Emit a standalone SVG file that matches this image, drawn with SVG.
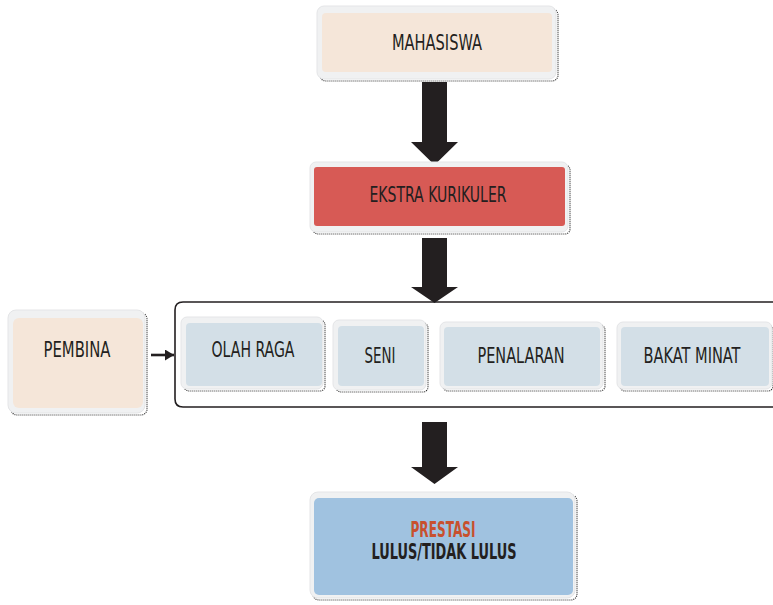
<svg xmlns="http://www.w3.org/2000/svg" width="773" height="605" viewBox="0 0 773 605">
<defs>
<style>
.shadow{fill:none;stroke:#333;stroke-width:1.2;stroke-dasharray:1 1}
.outer{fill:#f0f1f2;stroke:#e4e5e7;stroke-width:1}
.lbl{font-family:"Liberation Sans Narrow","DejaVu Sans Condensed","Liberation Sans",sans-serif;font-size:21px;fill:#231f20;text-anchor:middle;dominant-baseline:central}
.bold{font-weight:bold}
.arrow{fill:#231f20}
</style>
<marker id="ah" markerWidth="9" markerHeight="11" refX="9" refY="5.5" orient="auto" markerUnits="userSpaceOnUse">
<path d="M0,0 L9,5.5 L0,11 Z" fill="#231f20"/>
</marker>
</defs>
<rect width="773" height="605" fill="#fff"/>

<g id="connectors">
<polygon class="arrow" points="422,82 447,82 447,142 458,142 434.5,165 411,142 422,142"/>
<polygon class="arrow" points="422,238 447,238 447,287 458,287 434.5,303 411,287 422,287"/>
<polygon class="arrow" points="422,422 447,422 447,467 458,467 434.5,484 411,467 422,467"/>
<line x1="151" y1="355" x2="174" y2="355" stroke="#231f20" stroke-width="2.6" marker-end="url(#ah)"/>
</g>

<g id="container">
<path d="M775,302 H183 Q175,302 175,310 V399 Q175,407 183,407 H775" fill="none" stroke="#231f20" stroke-width="1.6"/>
</g>

<g id="mahasiswa">
<rect class="shadow" x="320" y="9" width="238" height="72" rx="6"/>
<rect class="outer" x="317" y="6" width="239" height="73" rx="7"/>
<rect x="322" y="13" width="230" height="59" rx="4" fill="#f5e6d9"/>
<text class="lbl" x="437" y="43" textLength="90" lengthAdjust="spacingAndGlyphs">MAHASISWA</text>
</g>

<g id="ekstra">
<rect class="shadow" x="313" y="165" width="257" height="69" rx="5"/>
<rect class="outer" x="310" y="162" width="258" height="70" rx="6"/>
<rect x="314" y="167" width="251" height="59" rx="3" fill="#d75a55"/>
<text class="lbl" x="438" y="195" textLength="137" lengthAdjust="spacingAndGlyphs">EKSTRA KURIKULER</text>
</g>

<g id="pembina">
<rect class="shadow" x="11" y="313" width="136" height="102" rx="6"/>
<rect class="outer" x="8" y="310" width="137" height="103" rx="8"/>
<rect x="13" y="318" width="130" height="90" rx="6" fill="#f5e6d9"/>
<text class="lbl" x="77" y="350" textLength="67" lengthAdjust="spacingAndGlyphs">PEMBINA</text>
</g>

<g id="olahraga">
<rect class="shadow" x="184" y="320" width="141" height="71" rx="5"/>
<rect class="outer" x="181" y="317" width="142" height="72" rx="6"/>
<rect x="186" y="323" width="136" height="63" rx="4" fill="#d3dfe7"/>
<text class="lbl" x="253" y="350" textLength="83" lengthAdjust="spacingAndGlyphs">OLAH RAGA</text>
</g>

<g id="seni">
<rect class="shadow" x="336" y="323" width="92" height="69" rx="5"/>
<rect class="outer" x="333" y="320" width="93" height="70" rx="6"/>
<rect x="338" y="326" width="86" height="60" rx="4" fill="#d3dfe7"/>
<text class="lbl" x="380" y="356" textLength="31" lengthAdjust="spacingAndGlyphs">SENI</text>
</g>

<g id="penalaran">
<rect class="shadow" x="443" y="325" width="162" height="66" rx="5"/>
<rect class="outer" x="440" y="322" width="163" height="67" rx="6"/>
<rect x="444" y="327" width="156" height="59" rx="4" fill="#d3dfe7"/>
<text class="lbl" x="521" y="356" textLength="87" lengthAdjust="spacingAndGlyphs">PENALARAN</text>
</g>

<g id="bakatminat">
<rect class="shadow" x="620" y="325" width="153" height="66" rx="5"/>
<rect class="outer" x="617" y="322" width="155" height="67" rx="6"/>
<rect x="621" y="327" width="148" height="59" rx="4" fill="#d3dfe7"/>
<text class="lbl" x="692" y="356" textLength="97" lengthAdjust="spacingAndGlyphs">BAKAT MINAT</text>
</g>

<g id="prestasi">
<rect class="shadow" x="313" y="495" width="264" height="105" rx="6"/>
<rect class="outer" x="310" y="492" width="265" height="106" rx="8"/>
<rect x="314" y="498" width="259" height="97" rx="5" fill="#a0c2e0"/>
<text class="lbl bold" x="443" y="530" style="fill:#c8502e" textLength="65" lengthAdjust="spacingAndGlyphs">PRESTASI</text>
<text class="lbl bold" x="444" y="552" textLength="145" lengthAdjust="spacingAndGlyphs">LULUS/TIDAK LULUS</text>
</g>
</svg>
